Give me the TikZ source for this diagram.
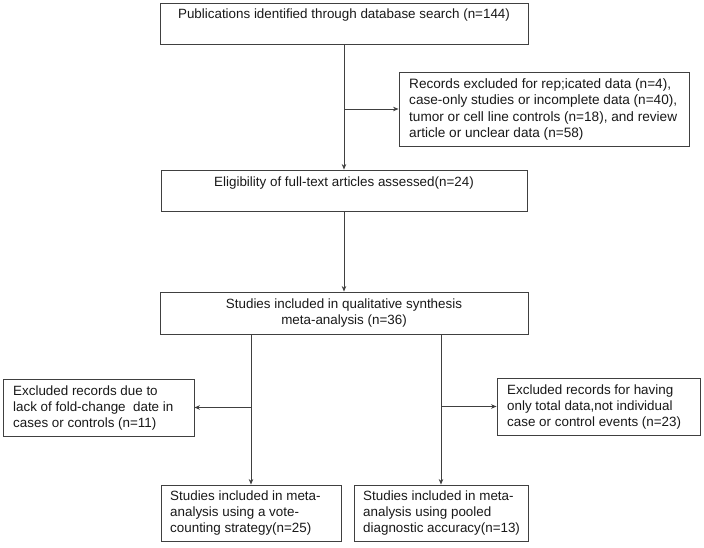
\documentclass[tikz,border=0pt]{standalone}
\usepackage{fontspec}
\setmainfont{Liberation Sans}
\usetikzlibrary{arrows.meta}
\begin{document}
\begin{tikzpicture}[x=1pt,y=-1pt,
  box/.style={draw=black!75, line width=0.9pt, rectangle, inner sep=0pt},
  txt/.style={font=\fontsize{13.4}{16}\selectfont, inner sep=0pt, text=black!90},
  bigtxt/.style={font=\fontsize{13.6}{16.2}\selectfont, inner sep=0pt, text=black!90},
  arr/.style={draw=black!75, line width=0.9pt, -{Stealth[length=5.5pt,width=4.5pt]}},
  ln/.style={draw=black!75, line width=0.9pt}]
\path[use as bounding box, fill=white] (0,0) rectangle (704,548);

% boxes
\node[box, minimum width=368pt, minimum height=41pt] (b1) at (344,24) {};
\node[box, minimum width=290pt, minimum height=74pt] (b2) at (544,109) {};
\node[box, minimum width=366pt, minimum height=41pt] (b3) at (344,190.5) {};
\node[box, minimum width=368pt, minimum height=42pt] (b4) at (344,313) {};
\node[box, minimum width=191pt, minimum height=57pt] (b5) at (98.5,407.5) {};
\node[box, minimum width=203pt, minimum height=57pt] (b6) at (598.5,406.5) {};
\node[box, minimum width=180pt, minimum height=56pt] (b7) at (251.5,513) {};
\node[box, minimum width=174pt, minimum height=56pt] (b8) at (441,513) {};

% texts
\node[txt] (t1) at (344,15.5) {Publications identified through database search (n=144)};
\node[bigtxt, align=left, anchor=west] (t2) at (409,109.5) {Records excluded for rep;icated data (n=4),\\case-only studies or incomplete data (n=40),\\tumor or cell line controls (n=18), and review\\article or unclear data (n=58)};
\node[txt] (t3) at (344,183) {Eligibility of full-text articles assessed(n=24)};
\node[txt, align=center] (t4) at (344,313.5) {Studies included in qualitative synthesis\\meta-analysis (n=36)};
\node[txt, align=left, anchor=west] (t5) at (13,408.5) {Excluded records due to\\lack of fold-change\ \ date in\\cases or controls (n=11)};
\node[txt, align=left, anchor=west] (t6) at (507,407.5) {Excluded records for having\\only total data,not individual\\case or control events (n=23)};
\node[txt, align=left, anchor=west] (t7) at (170,513.5) {Studies included in meta-\\analysis using a vote-\\counting strategy(n=25)};
\node[txt, align=left, anchor=west] (t8) at (363,513.5) {Studies included in meta-\\analysis using pooled\\diagnostic accuracy(n=13)};

% connectors
\coordinate (j1) at (b1.south |- b2.west);
\draw[arr] (b1.south) -- (b3.north);
\draw[arr] (j1) -- (b2.west);
\draw[arr] (b3.south) -- (b4.north);

\coordinate (s1) at (b4.south -| 251,0);
\coordinate (s2) at (b4.south -| b8.north);
\coordinate (e7) at (b7.north -| s1);
\coordinate (j2) at (s1 |- b5.east);
\coordinate (j3) at (s2 |- b6.west);
\draw[arr] (s1) -- (e7);
\draw[arr] (s2) -- (b8.north);
\draw[arr] (j2) -- (b5.east);
\draw[arr] (j3) -- (b6.west);
\end{tikzpicture}
\end{document}
